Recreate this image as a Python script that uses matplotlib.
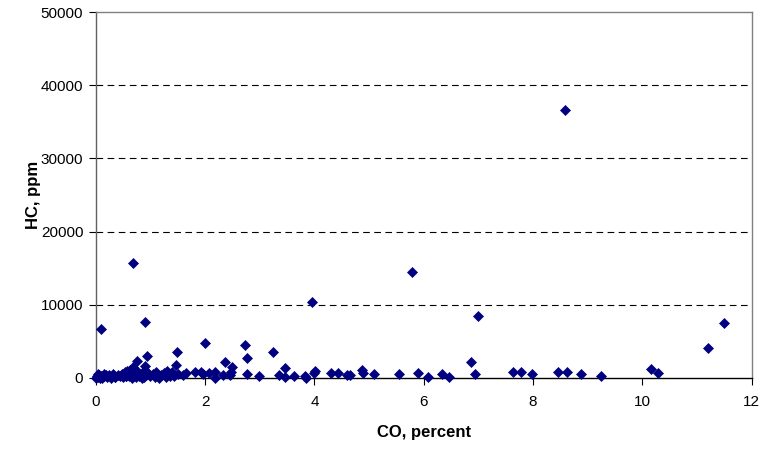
import matplotlib
matplotlib.use("Agg")
import matplotlib.pyplot as plt

plt.rcParams['font.family'] = ['Liberation Sans', 'DejaVu Sans']

# CO (percent) vs HC (ppm)
co = [
    # dense cluster near zero
    0.00, 0.02, 0.04, 0.06, 0.08, 0.10, 0.12, 0.15, 0.18, 0.20, 0.24, 0.28,
    0.32, 0.36, 0.40, 0.44, 0.48, 0.50, 0.53, 0.56, 0.58, 0.60, 0.62, 0.64,
    0.66, 0.68, 0.70, 0.72, 0.74, 0.76, 0.78, 0.80, 0.83, 0.86, 0.88, 0.92,
    0.96, 1.00, 1.04, 1.08, 1.12, 1.16, 1.20, 1.24, 1.28, 1.32, 1.36, 1.40,
    1.44, 1.50, 1.60, 1.66, 1.81, 1.93, 1.96, 2.08, 2.18, 2.18, 2.32, 2.45,
    2.48, 0.05, 0.15, 0.35, 0.55, 0.85, 1.10, 1.30,
    # raised points in the low range
    0.09, 0.91, 0.68, 0.94, 0.75, 1.49, 1.47, 0.90, 0.68, 0.62, 2.00, 2.73,
    2.76, 3.24, 2.37, 2.49, 2.76, 2.99, 3.36,
    # spread along the baseline
    3.47, 3.47, 3.62, 3.82, 3.85, 3.99, 4.02, 4.31, 4.44, 4.60, 4.66, 4.88,
    4.89, 5.09, 5.55, 5.89, 6.07, 6.34, 6.47, 6.86, 6.93, 7.63, 7.78, 7.99,
    8.46, 8.62, 8.87, 9.24, 10.15, 10.28,
    # outliers
    3.96, 7.00, 5.78, 11.20, 11.49, 8.59,
]
hc = [
    0, 250, 100, 400, 50, 300, 0, 200, 450, 100, 350, 50,
    500, 150, 400, 250, 600, 100, 750, 300, 900, 200, 1100, 500,
    0, 700, 350, 950, 150, 600, 850, 300, 500, 750, 100, 400,
    650, 250, 550, 100, 450, 0, 350, 650, 150, 500, 250, 800,
    300, 600, 400, 700, 870, 870, 500, 680, 870, 0, 410, 410,
    870, 550, 600, 150, 300, 0, 750, 950,
    6650, 7650, 15700, 3050, 2280, 3600, 1780, 1640, 1540, 960, 4740, 4550,
    2690, 3600, 2140, 1540, 550, 270, 410,
    1400, 180, 320, 320, 40, 640, 960, 730, 730, 410, 410, 1090,
    640, 550, 550, 730, 180, 550, 180, 2230, 550, 780, 780, 550,
    870, 870, 550, 320, 1190, 640,
    10420, 8470, 14500, 4050, 7470, 36600,
]

x_ticks = [0, 2, 4, 6, 8, 10, 12]
y_ticks = [0, 10000, 20000, 30000, 40000, 50000]

fig = plt.figure(figsize=(7.6, 4.51), dpi=100)
ax = fig.add_axes([0.126, 0.162, 0.863, 0.811])

for yv in y_ticks[1:-1]:
    ax.axhline(yv, color='black', lw=0.8, ls=(0, (6, 4)), zorder=1)

ax.plot(co, hc, ls='none', marker='D', ms=4.6, mfc='#000080', mec='#000080',
        mew=0.5, zorder=3, clip_on=False)

ax.set_xlim(0, 12)
ax.set_ylim(0, 50000)
ax.set_xticks(x_ticks)
ax.set_yticks(y_ticks)
ax.tick_params(direction='out', length=5, width=0.8, labelsize=11,
               colors='black', pad=4)
ax.tick_params(axis='x', pad=7)

ax.spines['left'].set_color('#606060')
ax.spines['bottom'].set_color('black')
ax.spines['top'].set_color('#808080')
ax.spines['right'].set_color('#808080')
for s in ax.spines.values():
    s.set_linewidth(1.0)

ax.set_xlabel('CO, percent', fontsize=12, fontweight='bold', labelpad=12)
ax.set_ylabel('HC, ppm', fontsize=12, fontweight='bold', labelpad=0)

fig.savefig('out.png', dpi=100)
